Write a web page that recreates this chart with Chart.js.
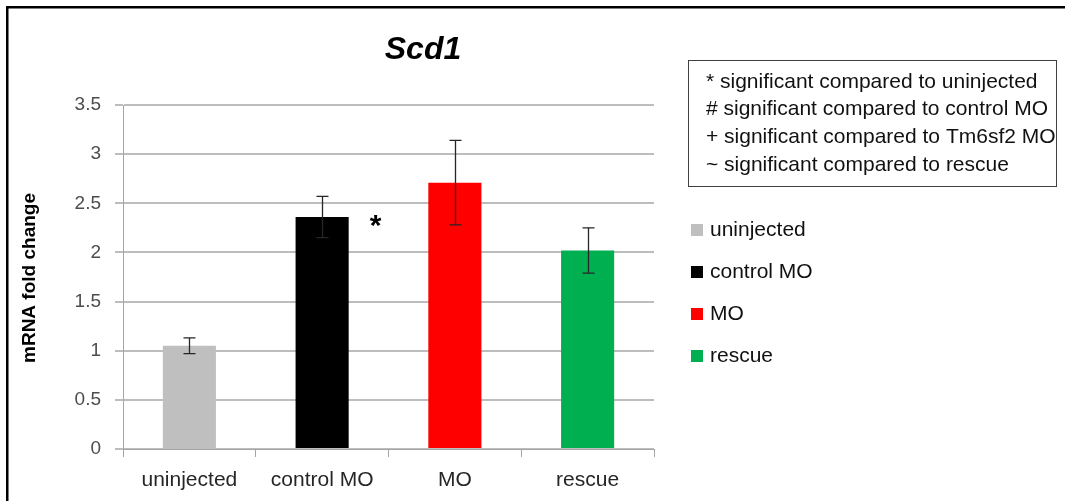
<!DOCTYPE html>
<html>
<head>
<meta charset="utf-8">
<script src="https://cdn.jsdelivr.net/npm/chart.js@4/dist/chart.umd.min.js"></script>
<style>
html,body{margin:0;padding:0;background:#fff;}
#wrap{position:relative;width:1065px;height:501px;}
canvas{display:block;}
</style>
</head>
<body>
<div id="wrap"><canvas id="c" width="1065" height="501"></canvas></div>
<script>
const chartTitle = 'Scd1';
const yAxisTitle = 'mRNA fold change';
const categories = ['uninjected', 'control MO', 'MO', 'rescue'];
const values = [1.05, 2.36, 2.71, 2.02];
const errors = [0.08, 0.21, 0.43, 0.23];
const barColors = ['#BFBFBF', '#000000', '#FF0000', '#00B050'];
const significance = ['', '*', '', ''];
const yTicks = [0, 0.5, 1, 1.5, 2, 2.5, 3, 3.5];
const notes = [
  '* significant compared to uninjected',
  '# significant compared to control MO',
  '+ significant compared to Tm6sf2 MO',
  '~ significant compared to rescue'
];

const FONT = '"Liberation Sans", Arial, sans-serif';

const decor = {
  id: 'decor',
  beforeDraw(chart) {
    const ctx = chart.ctx;
    ctx.save();
    ctx.fillStyle = '#fff';
    ctx.fillRect(0, 0, chart.width, chart.height);
    ctx.restore();
  },
  afterDatasetsDraw(chart) {
    const ctx = chart.ctx;
    const y = chart.scales.y;
    const meta = chart.getDatasetMeta(0);
    ctx.save();
    // error bars
    ctx.strokeStyle = '#262626';
    ctx.lineWidth = 1.3;
    values.forEach((v, i) => {
      const cx = Math.round(meta.data[i].x) + 0.5;
      const yt = y.getPixelForValue(v + errors[i]);
      const yb = y.getPixelForValue(v - errors[i]);
      ctx.beginPath();
      ctx.moveTo(cx, yt); ctx.lineTo(cx, yb);
      ctx.moveTo(cx - 6, yt); ctx.lineTo(cx + 6, yt);
      ctx.moveTo(cx - 6, yb); ctx.lineTo(cx + 6, yb);
      ctx.stroke();
    });
    // significance marks
    ctx.fillStyle = '#000';
    ctx.font = 'bold 30px ' + FONT;
    ctx.textAlign = 'center';
    ctx.textBaseline = 'middle';
    significance.forEach((s, i) => {
      if (!s) return;
      const bar = meta.data[i];
      const px = bar.x + bar.width / 2 + 27;
      const py = y.getPixelForValue(values[i]) + 10;
      ctx.fillText(s, px, py);
    });
    ctx.restore();
  },
  afterDraw(chart) {
    const ctx = chart.ctx;
    ctx.save();
    // outer frame
    ctx.fillStyle = '#000';
    ctx.fillRect(6, 6, chart.width - 6, 2.5);
    ctx.fillRect(6, 6, 2.5, chart.height - 6);
    // title
    ctx.font = 'italic bold 32px ' + FONT;
    ctx.textAlign = 'center';
    ctx.textBaseline = 'middle';
    ctx.fillText(chartTitle, 423, 50);
    // y axis title
    ctx.save();
    ctx.translate(30, 278);
    ctx.rotate(-Math.PI / 2);
    ctx.font = 'bold 19px ' + FONT;
    ctx.fillText(yAxisTitle, 0, 0);
    ctx.restore();
    // notes box
    ctx.strokeStyle = '#404040';
    ctx.lineWidth = 1;
    ctx.strokeRect(688.5, 60.5, 368, 126);
    ctx.fillStyle = '#111';
    ctx.font = '21px ' + FONT;
    ctx.textAlign = 'left';
    notes.forEach((t, i) => ctx.fillText(t, 706, 82 + i * 27.7));
    // legend
    ctx.font = '21px ' + FONT;
    categories.forEach((c, i) => {
      const cy = 230 + i * 42;
      ctx.fillStyle = barColors[i];
      ctx.fillRect(691, cy - 6, 12, 12);
      ctx.fillStyle = '#111';
      ctx.fillText(c, 710, cy);
    });
    ctx.restore();
  }
};

new Chart(document.getElementById('c'), {
  type: 'bar',
  data: {
    labels: categories,
    datasets: [{
      data: values,
      backgroundColor: barColors,
      borderWidth: 0,
      barPercentage: 0.4,
      categoryPercentage: 1.0
    }]
  },
  options: {
    responsive: false,
    animation: false,
    events: [],
    layout: { padding: { left: 50, right: 411, top: 105, bottom: 0 } },
    plugins: { legend: { display: false }, title: { display: false }, tooltip: { enabled: false } },
    scales: {
      x: {
        grid: { display: true, drawOnChartArea: false, drawTicks: true, tickLength: 8, color: '#A6A6A6', offset: true, lineWidth: 1 },
        border: { color: '#A6A6A6', width: 1 },
        ticks: { color: '#262626', font: { family: FONT, size: 21 }, padding: 11 },
        afterFit(s) { s.height = 52; }
      },
      y: {
        min: 0, max: 3.5,
        afterBuildTicks(s) { s.ticks = yTicks.map(v => ({ value: v })); },
        grid: { color: '#BDBDBD', lineWidth: 2, tickLength: 8, drawTicks: true },
        border: { color: '#A6A6A6', width: 1 },
        ticks: { color: '#4D4D4D', font: { family: FONT, size: 19 }, padding: 14,
                 callback: v => String(v) },
        afterFit(s) { s.width = 73; }
      }
    }
  },
  plugins: [decor]
});
</script>
</body>
</html>
